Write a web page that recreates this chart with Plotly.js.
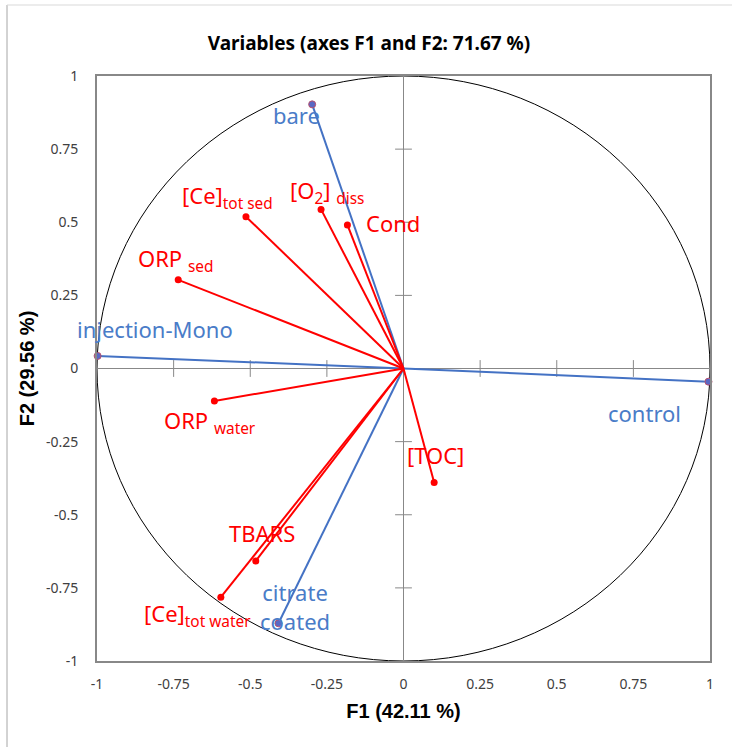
<!DOCTYPE html>
<html>
<head>
<meta charset="utf-8">
<script src="https://cdn.plot.ly/plotly-3.0.1.min.js"></script>
<style>html,body{margin:0;padding:0;background:#fff;}#chart{width:732px;height:747px;}</style>
</head>
<body>
<div id="chart"></div>
<script>
// Active variables (red)
const varNames = ['[Ce]<sub>tot sed</sub>', '[O<sub>2</sub>] <sub>diss</sub>', 'Cond', 'ORP <sub>sed</sub>', 'ORP <sub>water</sub>', 'TBARS', '[Ce]<sub>tot water</sub>', '[TOC]'];
const varF1 = [-0.514, -0.269, -0.183, -0.735, -0.617, -0.482, -0.596, 0.100];
const varF2 = [0.519, 0.544, 0.491, 0.303, -0.111, -0.658, -0.782, -0.390];
// Supplementary variables (blue)
const supNames = ['bare', 'injection-Mono', 'citrate<br>coated', 'control'];
const supF1 = [-0.298, -0.998, -0.408, 0.995];
const supF2 = [0.903, 0.043, -0.871, -0.045];
// Axis ticks
const tickVals = [-1, -0.75, -0.5, -0.25, 0, 0.25, 0.5, 0.75, 1];
const tickText = ['-1', '-0.75', '-0.5', '-0.25', '0', '0.25', '0.5', '0.75', '1'];

// label pixel offsets (style): [dx right, dy down]
const varShift = [[-18, -20], [6, -17], [46, -2], [-3, -20], [-4, 21], [6, -28], [-23, 18], [1, -28]];
const supShift = [[-16, 11], [57, -27], [17, -17], [-64, 31]];

const RED = '#ff0000';
const BLUE = '#4472c4';
const BLUE_TXT = '#4a7cc8';
const GRAY = '#888888';

function vecLines(xs, ys) {
  const x = [], y = [];
  xs.forEach((v, i) => { x.push(0, v, null); y.push(0, ys[i], null); });
  return {x, y};
}
const rl = vecLines(varF1, varF2);
const bl = vecLines(supF1, supF2);
const innerTicks = tickVals.filter(v => v !== 0 && Math.abs(v) !== 1);

const traces = [
  {x: innerTicks, y: innerTicks.map(() => 0), mode: 'markers', type: 'scatter', hoverinfo: 'skip',
   marker: {symbol: 'line-ns', size: 12, line: {color: GRAY, width: 1}}},
  {x: innerTicks.map(() => 0), y: innerTicks, mode: 'markers', type: 'scatter', hoverinfo: 'skip',
   marker: {symbol: 'line-ew', size: 12, line: {color: GRAY, width: 1}}},
  {x: bl.x, y: bl.y, mode: 'lines', type: 'scatter', line: {color: BLUE, width: 2}},
  {x: rl.x, y: rl.y, mode: 'lines', type: 'scatter', line: {color: RED, width: 2}},
  {x: supF1, y: supF2, mode: 'markers', type: 'scatter', marker: {color: '#5a68c4', size: 7, line: {color: '#b8506e', width: 1}}, cliponaxis: false},
  {x: varF1, y: varF2, mode: 'markers', type: 'scatter', marker: {color: RED, size: 7}}
];

const annotations = [];
varNames.forEach((n, i) => annotations.push({
  x: varF1[i], y: varF2[i], text: n, showarrow: false, xanchor: 'center', yanchor: 'middle',
  xshift: varShift[i][0], yshift: -varShift[i][1], font: {family: 'Noto Sans', size: 22, color: RED}
}));
supNames.forEach((n, i) => annotations.push({
  x: supF1[i], y: supF2[i], text: n, showarrow: false, xanchor: 'center', yanchor: 'middle',
  xshift: supShift[i][0], yshift: -supShift[i][1], font: {family: 'Noto Sans', size: 22, color: BLUE_TXT}
}));

const axisCommon = {
  range: [-1, 1], tickvals: tickVals, ticktext: tickText, showgrid: false,
  zeroline: true, zerolinecolor: GRAY, zerolinewidth: 1,
  showline: true, mirror: true, linecolor: GRAY, linewidth: 2, ticks: '',
  tickfont: {family: 'Noto Sans', size: 14, color: '#404040'}, fixedrange: true
};

const layout = {
  width: 732, height: 747,
  margin: {l: 97, r: 22, t: 76, b: 86},
  paper_bgcolor: '#ffffff', plot_bgcolor: '#ffffff',
  showlegend: false,
  title: {text: 'Variables (axes F1 and F2: 71.67 %)', x: 0.504, xref: 'container', y: 0.942, yref: 'container', yanchor: 'middle',
          font: {family: 'Noto Sans', size: 19, color: '#000000', weight: 'bold'}},
  xaxis: Object.assign({}, axisCommon, {
    ticklabelstandoff: 9,
    title: {text: 'F1 (42.11 %)', standoff: 12, font: {family: 'Liberation Sans', size: 20, color: '#000', weight: 'bold'}}
  }),
  yaxis: Object.assign({}, axisCommon, {
    ticklabelstandoff: 14,
    title: {text: 'F2 (29.56 %)', standoff: 6, font: {family: 'Liberation Sans', size: 20, color: '#000', weight: 'bold'}}
  }),
  shapes: [
    {type: 'circle', xref: 'x', yref: 'y', x0: -1, y0: -1, x1: 1, y1: 1, line: {color: '#000000', width: 1}, layer: 'below'},
    {type: 'line', xref: 'paper', yref: 'paper', x0: (7 - 97) / 613, x1: (7 - 97) / 613, y0: -0.2, y1: (661 - 5) / 585, line: {color: '#a6a6a6', width: 1}},
    {type: 'line', xref: 'paper', yref: 'paper', x0: (7 - 97) / 613, x1: 1.2, y0: (661 - 5) / 585, y1: (661 - 5) / 585, line: {color: '#d9d9d9', width: 1}}
  ],
  annotations: annotations
};

Plotly.newPlot('chart', traces, layout, {displayModeBar: false});
</script>
</body>
</html>
